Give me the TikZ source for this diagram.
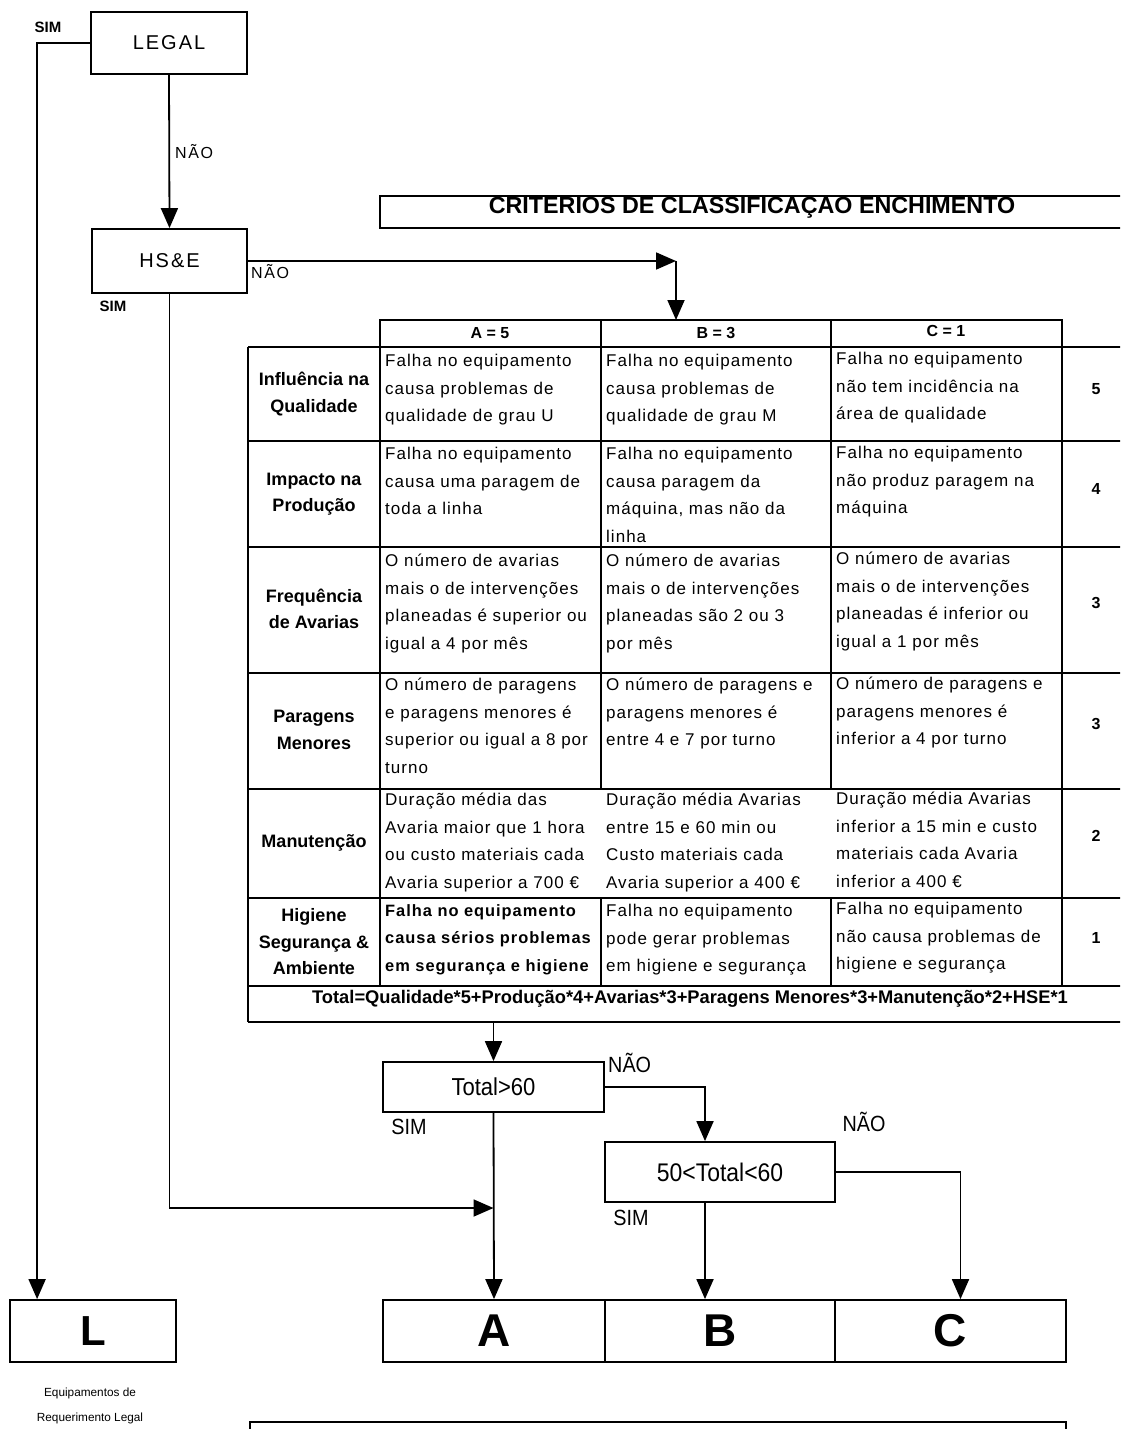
\documentclass[tikz,border=0pt]{standalone}
\usepackage{fontspec}
\setmainfont{Liberation Sans}
\newfontfamily\espacada[LetterSpace=10]{Liberation Sans}
\newfontfamily\celulafonte[LetterSpace=6]{Liberation Sans}
\newfontfamily\estreita[FakeStretch=0.9]{Liberation Sans}
\usetikzlibrary{arrows.meta}

\begin{document}
\begin{tikzpicture}[
    x=1pt,
    y=-1pt,
    >={Triangle[length=20pt,width=17pt]},
    font=\celulafonte\fontsize{17}{27.5}\selectfont,
    caixa/.style={draw,line width=1.8pt,inner sep=0pt},
    fluxo/.style={line width=1.8pt,->},
    linha/.style={line width=1.8pt},
    grelha/.style={line width=2.3pt},
    celula/.style={anchor=north west,align=left,inner sep=0pt},
    rotulo/.style={align=center,inner sep=0pt,
        font=\rmfamily\bfseries\fontsize{18}{26.5}\selectfont},
    ponto/.style={inner sep=0pt,font=\rmfamily\bfseries\fontsize{16}{20}\selectfont},
    resposta/.style={inner sep=0pt,font=\espacada\fontsize{16}{20}\selectfont},
    ramo/.style={inner sep=0pt,font=\estreita\fontsize{22}{24}\selectfont}
]
    \useasboundingbox (0,0) rectangle (1120,1429);
    \clip (0,0) rectangle (1120,1429);

    % Decisoes iniciais
    \node[caixa,minimum width=156,minimum height=62,
        font=\espacada\fontsize{20}{24}\selectfont] (legal) at (169,43) {LEGAL};
    \node[caixa,minimum width=155,minimum height=64,
        font=\espacada\fontsize{20}{24}\selectfont] (hse) at (169.5,261) {HS\&E};
    \node[inner sep=0pt,font=\rmfamily\bfseries\fontsize{15}{18}\selectfont]
        (simlegal) at (48,27) {SIM};
    \node[resposta,anchor=west] (naolegal) at (175,152) {NÃO};
    \node[resposta,anchor=west] (naohse) at (251,272) {NÃO};
    \node[inner sep=0pt,font=\rmfamily\bfseries\fontsize{15}{18}\selectfont]
        (simhse) at (113,306) {SIM};

    % Titulo da tabela
    \draw[linha] (380,196) rectangle (1140,228);
    \node[anchor=north,inner sep=0pt,
        font=\rmfamily\bfseries\fontsize{23.3}{25}\selectfont]
        (titulo) at (752,197) {CRITERIOS DE CLASSIFICAÇAO ENCHIMENTO};

    % Grelha da tabela
    \draw[grelha] (380,320) rectangle (1062,347);
    \draw[grelha] (601,320) -- (601,347) (831,320) -- (831,347);
    \draw[grelha] (248,347) -- (248,1022);
    \draw[grelha] (380,347) -- (380,986);
    \draw[grelha] (601,347) -- (601,789) (601,898) -- (601,986);
    \draw[grelha] (831,347) -- (831,789) (831,898) -- (831,986);
    \draw[grelha] (1062,347) -- (1062,986);
    \foreach \y in {347,441,547,673,789,898,986,1022}
        \draw[grelha] (248,\y) -- (1130,\y);

    % Cabecalho
    \node[ponto] (cabA) at (490,333) {A = 5};
    \node[ponto] (cabB) at (716,333) {B = 3};
    \node[ponto] (cabC) at (946,331) {C = 1};

    % Qualidade
    \node[rotulo] (qlab) at (314,394) {Influência na\\Qualidade};
    \node[celula] (qa) at (385,354)
        {Falha no equipamento\\causa problemas de\\qualidade de grau U};
    \node[celula] (qb) at (606,354)
        {Falha no equipamento\\causa problemas de\\qualidade de grau M};
    \node[celula] (qc) at (836,352)
        {Falha no equipamento\\não tem incidência na\\área de qualidade};
    \node[ponto] (qpt) at (1096,389) {5};

    % Producao
    \node[rotulo] (plab) at (314,494) {Impacto na\\Produção};
    \node[celula] (pa) at (385,447)
        {Falha no equipamento\\causa uma paragem de\\toda a linha};
    \node[celula] (pb) at (606,447)
        {Falha no equipamento\\causa paragem da\\máquina, mas não da\\linha};
    \node[celula] (pc) at (836,446)
        {Falha no equipamento\\não produz paragem na\\máquina};
    \node[ponto] (ppt) at (1096,489) {4};

    % Avarias
    \node[rotulo] (alab) at (314,609) {Frequência\\de Avarias};
    \node[celula] (aa) at (385,554)
        {O número de avarias\\mais o de intervenções\\planeadas é superior ou\\igual a 4 por mês};
    \node[celula] (ab) at (606,554)
        {O número de avarias\\mais o de intervenções\\planeadas são 2 ou 3\\por mês};
    \node[celula] (ac) at (836,552)
        {O número de avarias\\mais o de intervenções\\planeadas é inferior ou\\igual a 1 por mês};
    \node[ponto] (apt) at (1096,603) {3};

    % Paragens menores
    \node[rotulo] (mlab) at (314,730) {Paragens\\Menores};
    \node[celula] (ma) at (385,678)
        {O número de paragens\\e paragens menores é\\superior ou igual a 8 por\\turno};
    \node[celula] (mb) at (606,678)
        {O número de paragens e\\paragens menores é\\entre 4 e 7 por turno};
    \node[celula] (mc) at (836,677)
        {O número de paragens e\\paragens menores é\\inferior a 4 por turno};
    \node[ponto] (mpt) at (1096,724) {3};

    % Manutencao
    \node[rotulo] (nlab) at (314,843) {Manutenção};
    \node[celula] (na) at (385,793)
        {Duração média das\\Avaria maior que 1 hora\\ou custo materiais cada\\Avaria superior a 700 €};
    \node[celula] (nb) at (606,793)
        {Duração média Avarias\\entre 15 e 60 min ou\\Custo materiais cada\\Avaria superior a 400 €};
    \node[celula] (nc) at (836,792)
        {Duração média Avarias\\inferior a 15 min e custo\\materiais cada Avaria\\inferior a 400 €};
    \node[ponto] (npt) at (1096,836) {2};

    % Higiene e seguranca
    \node[rotulo] (hlab) at (314,942) {Higiene\\Segurança \&\\Ambiente};
    \node[celula,font=\celulafonte\bfseries\fontsize{16.4}{27.5}\selectfont] (ha) at (385,904)
        {Falha no equipamento\\causa sérios problemas\\em segurança e higiene};
    \node[celula] (hb) at (606,904)
        {Falha no equipamento\\pode gerar problemas\\em higiene e segurança};
    \node[celula] (hc) at (836,902)
        {Falha no equipamento\\não causa problemas de\\higiene e segurança};
    \node[ponto] (hpt) at (1096,938) {1};

    % Linha do total
    \node[inner sep=0pt,font=\rmfamily\bfseries\fontsize{18.3}{20}\selectfont] (total) at (690,999)
        {Total=Qualidade*5+Produção*4+Avarias*3+Paragens Menores*3+Manutenção*2+HSE*1};

    % Decisoes sobre o total
    \node[caixa,minimum width=221,minimum height=50,
        font=\estreita\fontsize{24.5}{26}\selectfont] (t60) at (493.5,1087) {Total>60};
    \node[caixa,minimum width=230,minimum height=60,
        font=\estreita\fontsize{25.5}{27}\selectfont] (t5060) at (720,1172) {50<Total<60};
    \node[ramo,anchor=west] (naot60) at (608,1063) {NÃO};
    \node[ramo] (simt60) at (409,1127) {SIM};
    \node[ramo] (naot5060) at (864,1122) {NÃO};
    \node[ramo] (simt5060) at (631,1218) {SIM};

    % Classes finais
    \node[caixa,minimum width=222,minimum height=62,
        font=\rmfamily\bfseries\fontsize{46}{48}\selectfont] (cA) at (494,1331) {A};
    \node[caixa,minimum width=230,minimum height=62,
        font=\rmfamily\bfseries\fontsize{46}{48}\selectfont] (cB) at (720,1331) {B};
    \node[caixa,minimum width=231,minimum height=62,
        font=\rmfamily\bfseries\fontsize{46}{48}\selectfont] (cC) at (950.5,1331) {C};
    \node[caixa,minimum width=166,minimum height=62,
        font=\rmfamily\bfseries\fontsize{42}{44}\selectfont] (l) at (93,1331) {L};
    \node[align=center,inner sep=0pt,
        font=\rmfamily\fontsize{11.8}{25}\selectfont] (legenda) at (90,1406)
        {Equipamentos de\\Requerimento Legal};

    % Quadro seguinte
    \draw[linha] (250,1422) rectangle (1066,1450);

    % Ligacoes
    \coordinate (canto) at (676,261);
    \coordinate (topo) at (676,320);
    \coordinate (base) at (490,1022);
    \coordinate (juncao) at (493.5,1208);
    \draw[fluxo] (legal.west) -| ([xshift=28pt]l.north west);
    \draw[fluxo] (legal.south) -- (hse.north);
    \draw[fluxo] (hse.east) -- (canto);
    \draw[fluxo] (canto) -- (topo);
    \draw[fluxo] (hse.south) |- (juncao);
    \draw[fluxo] (t60.north |- base) -- (t60.north);
    \draw[fluxo] (t60.east) -| ([xshift=-15pt]t5060.north);
    \draw[fluxo] (t60.south) -- (cA.north);
    \draw[fluxo] ([xshift=-15pt]t5060.south) -- ([xshift=-15pt]cB.north);
    \draw[fluxo] (t5060.east) -| ([xshift=10pt]cC.north);
\end{tikzpicture}
\end{document}
